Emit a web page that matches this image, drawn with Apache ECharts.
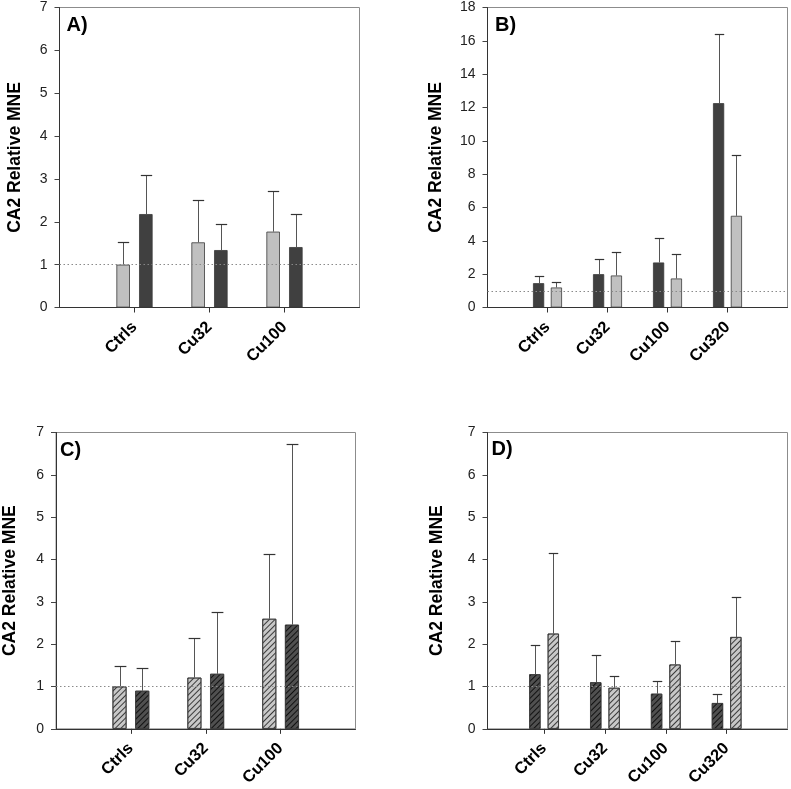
<!DOCTYPE html>
<html>
<head>
<meta charset="utf-8">
<script src="https://cdn.jsdelivr.net/npm/echarts@6/dist/echarts.min.js"></script>
<style>html,body{margin:0;padding:0;background:#fff;}#c{width:791px;height:789px;}</style>
</head>
<body>
<div id="c"></div>
<script>
// ---- data ----
const catsA = ['Ctrls', 'Cu32', 'Cu100'];
const catsB = ['Ctrls', 'Cu32', 'Cu100', 'Cu320'];
const catsC = ['Ctrls', 'Cu32', 'Cu100'];
const catsD = ['Ctrls', 'Cu32', 'Cu100', 'Cu320'];

// Panel A: light (solid) then dark (solid)
const aLight = [1.00, 1.52, 1.77];
const aLightTop = [1.52, 2.50, 2.73];
const aDark = [2.18, 1.34, 1.41];
const aDarkTop = [3.10, 1.96, 2.18];

// Panel B: dark (solid) then light (solid)
const bDark = [1.46, 2.00, 2.70, 12.26];
const bDarkTop = [1.88, 2.94, 4.20, 16.42];
const bLight = [1.20, 1.92, 1.74, 5.50];
const bLightTop = [1.56, 3.34, 3.22, 9.16];

// Panel C: light hatched then dark hatched
const cLight = [1.00, 1.21, 2.60];
const cLightTop = [1.49, 2.14, 4.12];
const cDark = [0.90, 1.30, 2.46];
const cDarkTop = [1.44, 2.75, 6.73];

// Panel D: dark hatched then light hatched
const dDark = [1.29, 1.10, 0.83, 0.61];
const dDarkTop = [1.98, 1.75, 1.13, 0.83];
const dLight = [2.25, 0.97, 1.52, 2.17];
const dLightTop = [4.15, 1.26, 2.07, 3.11];

const yTicksA = [0, 7, 1];
const yTicksB = [0, 18, 2];
const yTicksC = [0, 7, 1];
const yTicksD = [0, 7, 1];

const yName = 'CA2 Relative MNE';
const labels = ['A)', 'B)', 'C)', 'D)'];

// ---- styles ----
const FONT = "'Liberation Sans', Arial, sans-serif";
const LIGHT = '#c0c0c0', DARK = '#404040';
const hatchLight = {symbol: 'rect', symbolSize: 1, dashArrayX: [1, 0], dashArrayY: [1, 3], rotation: -Math.PI / 4, color: '#3a3a3a'};
const hatchDark = {symbol: 'rect', symbolSize: 1, dashArrayX: [1, 0], dashArrayY: [1, 3], rotation: -Math.PI / 4, color: '#111'};

const panels = [
  {cats: catsA, grid: {left: 59.5, top: 7.5, width: 300, height: 300}, xr: [0, 4], yt: yTicksA, gap: 35,
   w: 13.5, g: 0.68,
   s: [{v: aLight, t: aLightTop, c: LIGHT}, {v: aDark, t: aDarkTop, c: DARK}]},
  {cats: catsB, grid: {left: 487.5, top: 7.5, width: 300, height: 300}, xr: [0, 5], yt: yTicksB, gap: 42,
   w: 11.2, g: 0.59,
   s: [{v: bDark, t: bDarkTop, c: DARK}, {v: bLight, t: bLightTop, c: LIGHT}]},
  {cats: catsC, grid: {left: 54.5, top: 432.5, width: 301, height: 299}, xr: [0, 4], yt: yTicksC, gap: 37,
   w: 14, g: 0.62,
   s: [{v: cLight, t: cLightTop, c: '#c8c8c8', d: hatchLight}, {v: cDark, t: cDarkTop, c: '#505050', d: hatchDark}]},
  {cats: catsD, grid: {left: 487.5, top: 432.5, width: 300, height: 299}, xr: [0.07, 5], yt: yTicksD, gap: 41,
   w: 11.3, g: 0.63,
   s: [{v: dDark, t: dDarkTop, c: '#505050', d: hatchDark}, {v: dLight, t: dLightTop, c: '#c8c8c8', d: hatchLight}]}
];
const labelPos = [[66.5, 15], [495, 15], [60, 440], [491.5, 439]];

const grids = [], xAxes = [], yAxes = [], series = [], titles = [];

panels.forEach((p, i) => {
  grids.push(Object.assign({show: true, borderColor: '#8c8c8c', borderWidth: 1, backgroundColor: 'transparent'}, p.grid));
  const pos = p.cats.map((_, k) => k + 1);
  xAxes.push({
    type: 'value', gridIndex: i, min: p.xr[0], max: p.xr[1],
    axisLine: {show: true, onZero: false, lineStyle: {color: '#333', width: 1}},
    axisTick: {show: true, customValues: pos, length: 5, lineStyle: {color: '#333'}},
    axisLabel: {customValues: pos, formatter: v => p.cats[Math.round(v) - 1] || '', rotate: 45, margin: 17,
      fontSize: 16.5, fontWeight: 'bold', color: '#000', fontFamily: FONT},
    splitLine: {show: false}
  });
  yAxes.push({
    type: 'value', gridIndex: i, min: p.yt[0], max: p.yt[1], interval: p.yt[2],
    name: yName, nameLocation: 'middle', nameGap: p.gap,
    nameTextStyle: {fontSize: 17.5, fontWeight: 'bold', color: '#000', fontFamily: FONT},
    axisLine: {show: true, lineStyle: {color: '#333', width: 1}},
    axisTick: {show: true, inside: false, length: 5, lineStyle: {color: '#444'}},
    axisLabel: {fontSize: 14, color: '#222', margin: 12, fontFamily: FONT},
    splitLine: {show: false}
  });
  const off = p.w * (1 + p.g) / 2;
  p.s.forEach((s, j) => {
    const bar = {
      type: 'bar', xAxisIndex: i, yAxisIndex: i,
      data: s.v.map((v, k) => [k + 1, v]),
      barWidth: p.w, barGap: (p.g * 100) + '%',
      itemStyle: {color: s.c, borderColor: '#3a3a3a', borderWidth: 0.8, decal: s.d || null},
      emphasis: {disabled: true}, animation: false, z: 2
    };
    if (j === 0) {
      bar.markLine = {silent: true, symbol: 'none', animation: false,
        label: {show: false},
        lineStyle: {type: [1.5, 2.5], color: '#8a8a8a', width: 1},
        data: [{yAxis: 1}]};
    }
    series.push(bar);
    const dx = (j === 0 ? -off : off);
    const half = p.w * 0.42;
    series.push({
      type: 'custom', xAxisIndex: i, yAxisIndex: i, z: 3, animation: false, silent: true,
      data: s.v.map((v, k) => [k + 1, v, s.t[k]]),
      encode: {x: 0, y: [1, 2]},
      renderItem: (params, api) => {
        const x = api.value(0);
        const p0 = api.coord([x, api.value(1)]);
        const p1 = api.coord([x, api.value(2)]);
        const cx = Math.round(p0[0] + dx) + 0.5;
        const ty = Math.round(p1[1]) + 0.5;
        return {type: 'group', children: [
          {type: 'line', shape: {x1: cx, y1: p0[1], x2: cx, y2: ty}, style: {stroke: '#555', lineWidth: 1}},
          {type: 'line', shape: {x1: cx - half, y1: ty, x2: cx + half, y2: ty}, style: {stroke: '#333', lineWidth: 1.2}}
        ]};
      }
    });
  });
  titles.push({text: labels[i], left: labelPos[i][0], top: labelPos[i][1], padding: 0,
    textStyle: {fontSize: 20, fontWeight: 'bold', color: '#000', fontFamily: FONT}});
});

const chart = echarts.init(document.getElementById('c'), null, {renderer: 'canvas'});
chart.setOption({
  animation: false,
  textStyle: {fontFamily: FONT},
  title: titles,
  grid: grids,
  xAxis: xAxes,
  yAxis: yAxes,
  series: series
});
</script>
</body>
</html>
